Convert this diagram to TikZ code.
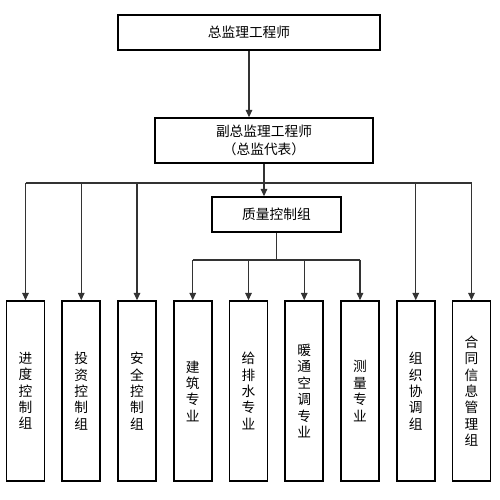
\documentclass[tikz,border=0pt]{standalone}
\usepackage{fontspec}
\newfontfamily\cjk{Noto Sans CJK SC}
\usetikzlibrary{arrows.meta}
\tikzset{
    box/.style={draw, line width=0.9pt, inner sep=0pt, align=center,
            font=\cjk\fontsize{7.8pt}{9.3pt}\selectfont},
    colbox/.style={box, minimum width=0.76cm, minimum height=3.6cm},
    link/.style={draw=black!80, line width=0.6pt},
    arr/.style={link, -{Triangle[length=4.2pt,width=3.8pt]}},
}

\begin{document}
\begin{tikzpicture}
        \useasboundingbox (0, 0) rectangle (10, 10);
        %upper boxes
        \node[box, minimum width=5.24cm, minimum height=0.7cm] (chief) at (4.98, 9.35) {总监理工程师};
        \node[box, minimum width=4.36cm, minimum height=0.9cm,
            font=\cjk\fontsize{7.8pt}{10.3pt}\selectfont] (deputy) at (5.28, 7.19) {副总监理工程师\\（总监代表）};
        \node[box, minimum width=2.58cm, minimum height=0.7cm] (quality) at (5.53, 5.71) {质量控制组};
        %lower column boxes
        \foreach \i/\t in {1/{进\\度\\控\\制\\组}, 2/{投\\资\\控\\制\\组}, 3/{安\\全\\控\\制\\组},
                4/{建\\筑\\专\\业}, 5/{给\\排\\水\\专\\业}, 6/{暖\\通\\空\\调\\专\\业},
                7/{测\\量\\专\\业}, 8/{组\\织\\协\\调\\组}, 9/{合\\同\\信\\息\\管\\理\\组}}
            \node[colbox] (c\i) at ({0.51 + 1.115*(\i-1)}, 2.18) {\t};
        %bars
        \coordinate (bar) at (0, 6.34);
        \coordinate (subbar) at (0, 4.80);
        %connectors
        \draw[arr] (chief) -- (chief |- deputy.north);
        \draw[link] (deputy.south) -- (deputy.south |- bar);
        \draw[arr] (deputy.south |- bar) -- (deputy.south |- quality.north);
        \draw[link] (c1 |- bar) -- (c9 |- bar);
        \foreach \i in {1, 2, 3, 8, 9}
            \draw[arr] (c\i |- bar) -- (c\i.north);
        \draw[link] (quality.south) -- (quality.south |- subbar);
        \draw[link] (c4 |- subbar) -- (c7 |- subbar);
        \foreach \i in {4, 5, 6, 7}
            \draw[arr] (c\i |- subbar) -- (c\i.north);
    \end{tikzpicture}
\end{document}
